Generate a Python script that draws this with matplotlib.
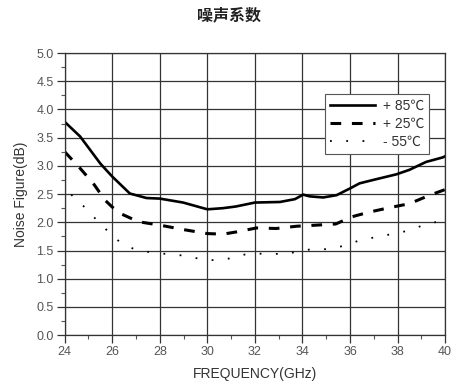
import matplotlib
matplotlib.use("Agg")
import matplotlib.pyplot as plt
from matplotlib.ticker import MultipleLocator

plt.rcParams['font.family'] = ['Liberation Sans', 'Noto Sans CJK SC', 'DejaVu Sans']

title = "噪声系数"
xlabel = "FREQUENCY(GHz)"
ylabel = "Noise Figure(dB)"
labels = ["+ 85℃", "+ 25℃", "- 55℃"]

f85 = [24.0, 24.65, 25.5, 26.0, 26.74, 27.44, 28.0, 28.98, 30.0, 30.65, 31.2, 32.0,
       33.05, 33.68, 34.03, 34.3, 34.87, 35.43, 36.0, 36.4, 36.97, 37.95, 38.5, 39.2, 39.9, 40.0]
nf85 = [3.78, 3.52, 3.04, 2.81, 2.51, 2.43, 2.42, 2.35, 2.23, 2.25, 2.28, 2.35,
        2.36, 2.41, 2.49, 2.46, 2.44, 2.48, 2.60, 2.69, 2.75, 2.85, 2.93, 3.07, 3.15, 3.17]

f25 = [24.0, 24.64, 25.2, 25.7, 26.0, 26.32, 27.1, 28.0, 29.0, 30.0, 30.66, 31.23,
       32.07, 32.9, 33.75, 34.6, 35.4, 36.1, 36.8, 37.67, 38.5, 39.35, 40.0]
nf25 = [3.25, 2.96, 2.69, 2.39, 2.27, 2.16, 2.01, 1.95, 1.87, 1.80, 1.79, 1.83,
        1.90, 1.89, 1.93, 1.95, 1.97, 2.10, 2.18, 2.26, 2.33, 2.48, 2.58]

f55 = [24.27, 24.64, 24.99, 25.35, 25.7, 26.05, 26.46, 26.95, 27.44, 28.0, 28.5, 29.0,
       29.47, 29.97, 30.45, 30.95, 31.44, 31.92, 32.4, 32.9, 33.4, 33.9, 34.38, 34.87,
       35.36, 35.85, 36.34, 36.76, 37.25, 37.74, 38.23, 38.72, 39.2, 39.7, 40.0]
nf55 = [2.49, 2.36, 2.19, 2.04, 1.89, 1.74, 1.61, 1.52, 1.48, 1.45, 1.43, 1.41,
        1.37, 1.33, 1.33, 1.36, 1.42, 1.45, 1.44, 1.44, 1.44, 1.50, 1.52, 1.52,
        1.54, 1.60, 1.67, 1.71, 1.75, 1.79, 1.83, 1.89, 1.97, 2.01, 2.03]

fig = plt.figure(figsize=(4.57, 3.87), dpi=100)
ax = fig.add_axes([0.1416, 0.134, 0.974 - 0.1416, 0.863 - 0.134])

ax.plot(f85, nf85, color='black', lw=1.9, ls='-', label=labels[0])
ax.plot(f25, nf25, color='black', lw=2.2, ls=(0, (3.5, 3.5)), label=labels[1])
ax.plot(f55, nf55, color='black', lw=1.3, ls=(0, (1, 8)), label=labels[2])

ax.set_xlim(24, 40)
ax.set_ylim(0, 5)
ax.xaxis.set_major_locator(MultipleLocator(2))
ax.xaxis.set_minor_locator(MultipleLocator(1))
ax.yaxis.set_major_locator(MultipleLocator(0.5))
ax.yaxis.set_minor_locator(MultipleLocator(0.25))
ax.yaxis.set_major_formatter(matplotlib.ticker.FormatStrFormatter('%.1f'))

ax.grid(True, which='major', color='#333333', lw=0.9)
for s in ax.spines.values():
    s.set_color('#333333')
    s.set_linewidth(0.9)
ax.tick_params(which='major', direction='out', length=6, width=0.9, color='#333333',
               labelsize=9, labelcolor='#555555', pad=2)
ax.tick_params(which='minor', direction='out', length=3, width=0.8, color='#555555')

ax.set_xlabel(xlabel, fontsize=10, color='#333333', labelpad=6)
ax.set_ylabel(ylabel, fontsize=10, color='#333333', labelpad=6)

fig.text(0.5, 0.96, title, ha='center', va='center', fontsize=11.5, fontweight='bold',
         family=['Noto Sans CJK SC', 'DejaVu Sans'], color='#222222')

leg = ax.legend(loc='upper right', bbox_to_anchor=(0.958, 0.855), fontsize=10,
                frameon=True, fancybox=False, edgecolor='#555555', framealpha=1,
                handlelength=3.2, handletextpad=0.6, borderpad=0.35, labelspacing=0.3,
                borderaxespad=0)
leg.get_frame().set_linewidth(0.8)
for t in leg.get_texts():
    t.set_color('#333333')

fig.savefig("out.png", dpi=100)
